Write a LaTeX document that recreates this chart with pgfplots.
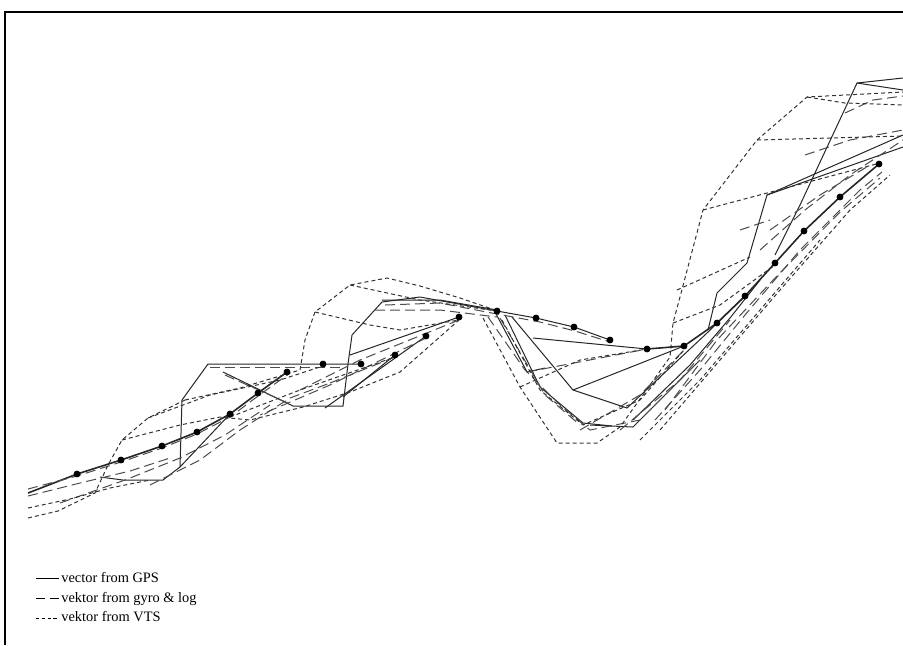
\documentclass[border=0pt]{standalone}
\usepackage{fontspec}
\setmainfont{Liberation Serif}
\usepackage{pgfplots}
\pgfplotsset{compat=1.18}
\begin{document}
\begin{tikzpicture}
\tikzset{
 gps/.style={black!85, line width=0.5pt},
 gyro/.style={black!70, line width=0.5pt, dash pattern=on 5pt off 2.5pt},
 vts/.style={black!80, line width=0.5pt, dash pattern=on 2pt off 1.5pt},
}
\begin{axis}[
 x=0.5pt, y=0.5pt, y dir=reverse,
 xmin=0, xmax=903, ymin=0, ymax=645,
 hide axis, clip=true,
 legend style={at={(axis cs:29,566)}, anchor=north west, draw=none, fill=none,
   font=\fontsize{7.2}{8.6}\selectfont, row sep=1.2pt,
   nodes={inner sep=1pt}},
 legend cell align=left,
 legend image code/.code={\draw[#1] (0pt,0pt) -- (11.5pt,0pt);},
]
\addlegendimage{black, line width=0.5pt}
\addlegendentry{vector from GPS}
\addlegendimage{black, line width=0.5pt, dash pattern=on 4.5pt off 2.5pt}
\addlegendentry{vektor from gyro \& log}
\addlegendimage{black, line width=0.5pt, dash pattern=on 1.7pt off 1.2pt}
\addlegendentry{vektor from VTS}

% ---------- GPS (solid) ----------
\addplot[gps, line width=0.8pt, forget plot] coordinates {(28,493)(77,474)(121,460)(162,446)(197,432)(230,414)(258,393)(287,372)};
\addplot[gps, forget plot] coordinates {(100,477)(123,480)(163,480)(180,467)(182,400)(208,364)(361,364)};
\addplot[gps, forget plot] coordinates {(223,372)(293,406)(343,406)(348,364)(352,335)(382,302)(420,297)(497,311)(536,318)(574,327)(610,340)};
\addplot[gps, forget plot] coordinates {(459,317)(350,355)};
\addplot[gps, forget plot] coordinates {(426,336)(325,408)};
\addplot[gps, forget plot] coordinates {(395,355)(343,397)};
\addplot[gps, forget plot] coordinates {(180,467)(230,414)};
\addplot[gps, forget plot] coordinates {(512,317)(573,390)(627,408)(707,333)(745,296)};
\addplot[gps, forget plot] coordinates {(573,390)(684,346)};
\addplot[gps, forget plot] coordinates {(533,338)(647,349)};
\addplot[gps, forget plot] coordinates {(590,425)(633,427)(700,360)};
\addplot[gps, line width=0.8pt, forget plot] coordinates {(647,349)(684,346)(717,323)(745,296)(775,263)(804,231)(840,197)(879,164)};
\addplot[gps, forget plot] coordinates {(708,330)(717,293)(747,263)(767,195)(903,135)};
\addplot[gps, forget plot] coordinates {(767,195)(903,147)};
\addplot[gps, forget plot] coordinates {(775,255)(800,205)(857,83)(903,78)};
\addplot[gps, forget plot] coordinates {(857,83)(903,90)};
\addplot[gps, forget plot] coordinates {(495,312)(527,372)(545,368)};
\addplot[gps, forget plot] coordinates {(505,315)(540,387)(583,423)(612,426)};
\addplot[gps, forget plot] coordinates {(382,300)(440,300)(497,310)};
\addplot[gps, forget plot] coordinates {(633,420)(690,365)(730,318)(760,280)};

% ---------- gyro & log (long dashes) ----------
\addplot[gyro, forget plot] coordinates {(28,489)(77,476)(121,462)(162,448)(197,434)(230,417)(258,396)(290,373)};
\addplot[gyro, forget plot] coordinates {(28,496)(80,483)(130,471)(170,458)};
\addplot[gyro, forget plot] coordinates {(60,503)(125,480)(180,458)(225,435)(270,405)};
\addplot[gyro, forget plot] coordinates {(150,485)(200,460)(240,430)(290,398)(330,383)};
\addplot[gyro, forget plot] coordinates {(210,367)(345,367)};
\addplot[gyro, forget plot] coordinates {(225,375)(290,404)};
\addplot[gyro, forget plot] coordinates {(385,305)(440,303)(497,314)(540,322)(575,331)(610,342)};
\addplot[gyro, forget plot] coordinates {(375,310)(440,310)(497,317)};
\addplot[gyro, forget plot] coordinates {(459,320)(360,360)(300,390)};
\addplot[gyro, forget plot] coordinates {(426,338)(330,385)(260,415)};
\addplot[gyro, forget plot] coordinates {(395,357)(330,383)};
\addplot[gyro, forget plot] coordinates {(488,317)(525,370)(560,405)(590,430)(640,420)(700,360)};
\addplot[gyro, forget plot] coordinates {(527,372)(647,349)};
\addplot[gyro, forget plot] coordinates {(500,318)(545,395)(580,425)};
\addplot[gyro, forget plot] coordinates {(580,430)(640,395)(684,350)};
\addplot[gyro, forget plot] coordinates {(655,420)(700,370)(745,315)(800,250)(860,190)(882,172)};
\addplot[gyro, forget plot] coordinates {(665,410)(717,340)(775,278)(840,212)(880,178)};
\addplot[gyro, forget plot] coordinates {(620,430)(680,380)(730,320)};
\addplot[gyro, forget plot] coordinates {(760,250)(805,210)(850,175)(903,140)};
\addplot[gyro, forget plot] coordinates {(770,230)(820,195)(870,165)};
\addplot[gyro, forget plot] coordinates {(805,155)(850,140)(903,130)};
\addplot[gyro, forget plot] coordinates {(845,113)(873,100)(903,96)};
\addplot[gyro, forget plot] coordinates {(740,230)(770,220)};

% ---------- VTS (short dashes) ----------
\addplot[vts, forget plot] coordinates {(28,518)(58,511)(95,493)(108,465)(122,440)(148,418)(185,400)};
\addplot[vts, forget plot] coordinates {(28,508)(70,499)(110,488)(150,480)};
\addplot[vts, forget plot] coordinates {(185,400)(240,388)(300,370)(305,340)(315,312)(350,285)(387,278)(420,286)(460,298)(495,310)};
\addplot[vts, forget plot] coordinates {(122,440)(180,425)(220,417)(250,420)(303,407)(350,392)(400,372)(459,320)};
\addplot[vts, forget plot] coordinates {(148,418)(210,395)(280,380)(323,366)};
\addplot[vts, forget plot] coordinates {(315,312)(370,325)(400,330)(459,320)};
\addplot[vts, forget plot] coordinates {(350,285)(420,300)(497,311)};
\addplot[vts, forget plot] coordinates {(483,318)(520,387)(557,443)(597,443)(620,427)(670,357)(673,323)(680,297)(703,210)(757,140)(807,97)(903,92)};
\addplot[vts, forget plot] coordinates {(502,320)(540,390)(583,425)(640,400)(684,350)};
\addplot[vts, forget plot] coordinates {(520,387)(580,360)(647,349)};
\addplot[vts, forget plot] coordinates {(677,290)(750,257)};
\addplot[vts, forget plot] coordinates {(673,323)(720,305)(775,265)};
\addplot[vts, forget plot] coordinates {(703,210)(767,193)(880,163)};
\addplot[vts, forget plot] coordinates {(757,140)(903,136)};
\addplot[vts, forget plot] coordinates {(807,97)(845,103)(903,105)};
\addplot[vts, forget plot] coordinates {(660,430)(720,360)(780,290)(850,210)(890,175)};
\addplot[vts, forget plot] coordinates {(640,440)(700,380)(760,310)(820,240)};
\addplot[vts, forget plot] coordinates {(230,417)(300,390)(395,357)};

% ---------- track points ----------
\addplot[only marks, mark=*, mark size=1.5pt, black, forget plot] coordinates {
(77,474)(121,460)(162,446)(197,432)(230,414)(258,393)(287,372)(323,364)(361,364)(395,355)(426,336)(459,317)(497,311)(536,318)(574,327)(610,340)(647,349)(684,346)(717,323)(745,296)(775,263)(804,231)(840,197)(879,164)};

% frame
\draw[black, line width=1pt] (axis cs:5,645) -- (axis cs:5,12) -- (axis cs:903,12);
\coordinate (tl) at (axis cs:0,0);
\coordinate (br) at (axis cs:903,645);
\end{axis}
\pgfresetboundingbox
\useasboundingbox (tl) rectangle (br);
\end{tikzpicture}
\end{document}
